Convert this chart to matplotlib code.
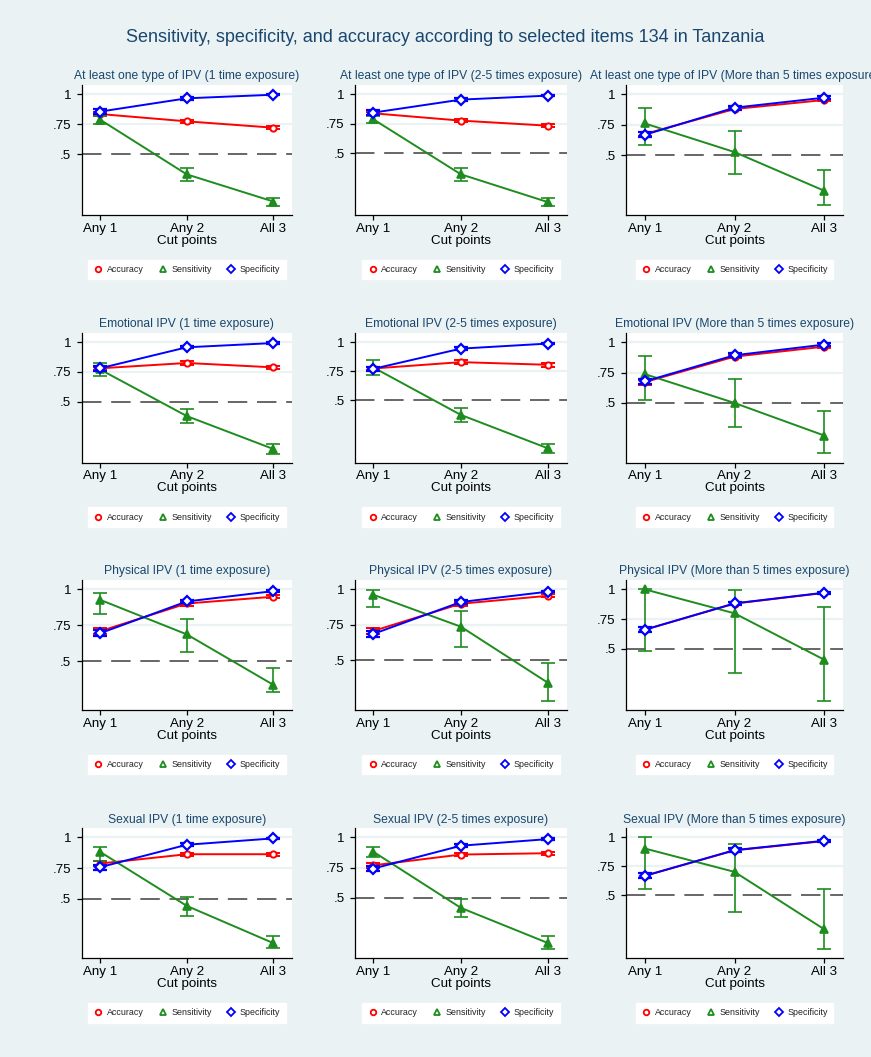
import numpy as np
import matplotlib
matplotlib.use("Agg")
import matplotlib.pyplot as plt
from matplotlib.lines import Line2D

plt.rcParams['font.family'] = ['Liberation Sans', 'DejaVu Sans']

# panel labels
ipv_types = ["At least one type of IPV", "Emotional IPV", "Physical IPV", "Sexual IPV"]
exposures = ["1 time exposure", "2-5 times exposure", "More than 5 times exposure"]
cut_labels = ["Any 1", "Any 2", "All 3"]
ytick_vals = [0.5, 0.75, 1.0]
ytick_labels = [".5", ".75", "1"]

# one row per panel (row-major: IPV type x exposure), columns = cut points
accuracy = [
    [0.836, 0.775, 0.722],
    [0.839, 0.777, 0.734],
    [0.675, 0.880, 0.954],
    [0.781, 0.826, 0.789],
    [0.773, 0.828, 0.805],
    [0.672, 0.882, 0.964],
    [0.709, 0.902, 0.949],
    [0.707, 0.899, 0.955],
    [0.660, 0.880, 0.970],
    [0.787, 0.863, 0.863],
    [0.769, 0.858, 0.869],
    [0.669, 0.888, 0.968],
]
accuracy_err = [
    [0.015, 0.015, 0.015],
    [0.015, 0.015, 0.015],
    [0.020, 0.012, 0.008],
    [0.015, 0.015, 0.015],
    [0.015, 0.015, 0.015],
    [0.020, 0.012, 0.008],
    [0.022, 0.015, 0.012],
    [0.022, 0.015, 0.012],
    [0.020, 0.012, 0.008],
    [0.020, 0.012, 0.012],
    [0.020, 0.012, 0.012],
    [0.020, 0.012, 0.008],
]
sensitivity = [
    [0.790, 0.333, 0.106],
    [0.788, 0.322, 0.085],
    [0.762, 0.527, 0.210],
    [0.772, 0.379, 0.101],
    [0.782, 0.371, 0.080],
    [0.738, 0.500, 0.232],
    [0.928, 0.688, 0.337],
    [0.962, 0.737, 0.340],
    [1.000, 0.798, 0.407],
    [0.883, 0.443, 0.139],
    [0.881, 0.417, 0.125],
    [0.904, 0.703, 0.209],
]
sensitivity_lo = [
    [0.750, 0.280, 0.072],
    [0.760, 0.268, 0.051],
    [0.587, 0.350, 0.092],
    [0.719, 0.317, 0.059],
    [0.716, 0.307, 0.043],
    [0.527, 0.303, 0.090],
    [0.830, 0.563, 0.291],
    [0.873, 0.594, 0.216],
    [0.483, 0.292, 0.062],
    [0.811, 0.363, 0.096],
    [0.839, 0.342, 0.081],
    [0.558, 0.355, 0.035],
]
sensitivity_hi = [
    [0.820, 0.383, 0.139],
    [0.816, 0.379, 0.119],
    [0.891, 0.702, 0.380],
    [0.823, 0.438, 0.143],
    [0.848, 0.434, 0.121],
    [0.883, 0.700, 0.437],
    [0.974, 0.795, 0.453],
    [0.993, 0.845, 0.484],
    [1.000, 0.992, 0.848],
    [0.918, 0.514, 0.197],
    [0.919, 0.494, 0.183],
    [1.000, 0.939, 0.558],
]
specificity = [
    [0.856, 0.967, 0.997],
    [0.845, 0.955, 0.989],
    [0.669, 0.891, 0.973],
    [0.781, 0.958, 0.994],
    [0.770, 0.945, 0.989],
    [0.678, 0.893, 0.981],
    [0.695, 0.916, 0.988],
    [0.686, 0.911, 0.984],
    [0.660, 0.882, 0.972],
    [0.757, 0.940, 0.992],
    [0.742, 0.931, 0.986],
    [0.669, 0.890, 0.971],
]
specificity_err = [
    [0.020, 0.010, 0.005],
    [0.020, 0.010, 0.005],
    [0.020, 0.015, 0.010],
    [0.020, 0.010, 0.005],
    [0.020, 0.010, 0.005],
    [0.020, 0.015, 0.010],
    [0.020, 0.012, 0.006],
    [0.020, 0.012, 0.006],
    [0.020, 0.015, 0.010],
    [0.020, 0.012, 0.005],
    [0.020, 0.012, 0.005],
    [0.020, 0.015, 0.010],
]
# y axis range of each panel
y_bottom = [-0.006, -0.023, 0.011, -0.014, -0.043, 0.008, 0.163, 0.150, -0.017, 0.016, 0.0, -0.041]
y_top = [1.078, 1.079, 1.077, 1.081, 1.083, 1.079, 1.065, 1.066, 1.079, 1.074, 1.075, 1.078]

BG = '#EAF2F3'
NAVY = '#1A476F'
RED = '#FF0000'
GREEN = '#1E8C1E'
BLUE = '#0000FF'

W, H = 871, 1057
fig = plt.figure(figsize=(W / 100, H / 100), dpi=100, facecolor=BG)

col_left = [81.7, 355.0, 626.0]
col_width = [210.0, 211.7, 217.0]
row_top = [85.0, 332.7, 580.0, 828.3]
plot_h = 130.0

fig.text(445 / W, 1 - 37 / H,
         "Sensitivity, specificity, and accuracy according to selected items 134 in Tanzania",
         ha='center', va='center', fontsize=13.0, color=NAVY)

x = np.array([1, 2, 3])
series = [
    ("Accuracy", RED, 'o', accuracy),
    ("Sensitivity", GREEN, '^', sensitivity),
    ("Specificity", BLUE, 'D', specificity),
]

for r in range(4):
    for c in range(3):
        i = r * 3 + c
        left = col_left[c] / W
        bottom = 1 - (row_top[r] + plot_h) / H
        ax = fig.add_axes([left, bottom, col_width[c] / W, plot_h / H])
        ax.set_facecolor('white')

        for gv in [0.75, 1.0]:
            ax.axhline(gv, color=BG, lw=1.6, zorder=0)
        ax.axhline(0.5, color='#666666', lw=1.4, dashes=(10, 5), zorder=1)

        acc = np.array(accuracy[i])
        ax.errorbar(x, acc, yerr=np.array(accuracy_err[i]), color=RED, lw=1.4,
                    marker='o', ms=4.5, mfc='white', mec=RED, mew=1.4,
                    capsize=5, capthick=1.2, elinewidth=1.2, zorder=3)
        sens = np.array(sensitivity[i])
        yerr = [sens - np.array(sensitivity_lo[i]), np.array(sensitivity_hi[i]) - sens]
        ax.errorbar(x, sens, yerr=yerr, color=GREEN, lw=1.4,
                    marker='^', ms=5.5, mfc=GREEN, mec=GREEN, mew=1.2,
                    capsize=5, capthick=1.2, elinewidth=1.2, zorder=4)
        spec = np.array(specificity[i])
        ax.errorbar(x, spec, yerr=np.array(specificity_err[i]), color=BLUE, lw=1.4,
                    marker='D', ms=4.8, mfc='white', mec=BLUE, mew=1.6,
                    capsize=5, capthick=1.2, elinewidth=1.2, zorder=5)

        ax.set_xlim(0.79, 3.21)
        ax.set_ylim(y_bottom[i], y_top[i])
        ax.set_xticks(x)
        ax.set_xticklabels(cut_labels)
        ax.set_yticks(ytick_vals)
        ax.set_yticklabels(ytick_labels)
        ax.tick_params(axis='both', direction='out', length=3.5, width=0.9,
                       labelsize=9.6, colors='black', pad=2)
        ax.tick_params(axis='y', pad=4)
        for s in ['top', 'right']:
            ax.spines[s].set_visible(False)
        for s in ['left', 'bottom']:
            ax.spines[s].set_color('black')
            ax.spines[s].set_linewidth(0.9)
        ax.set_xlabel("Cut points", fontsize=9.6, labelpad=0)
        ax.set_title(f"{ipv_types[r]} ({exposures[c]})", fontsize=8.7, color=NAVY, pad=4)

        handles = [Line2D([], [], ls='none', marker=m, color=col, mfc='white',
                          mec=col, mew=1.3, ms=4) for _, col, m, _ in series]
        leg = ax.legend(handles, [s[0] for s in series], loc='upper center',
                        bbox_to_anchor=(0.5, -0.31), ncol=3, fontsize=6.4,
                        frameon=True, fancybox=False, framealpha=1,
                        facecolor='white', edgecolor='white',
                        handletextpad=0.4, columnspacing=1.5, borderpad=0.6,
                        handlelength=1.2)
        for t in leg.get_texts():
            t.set_color('#222222')

fig.savefig("out.png", dpi=100, facecolor=BG)
